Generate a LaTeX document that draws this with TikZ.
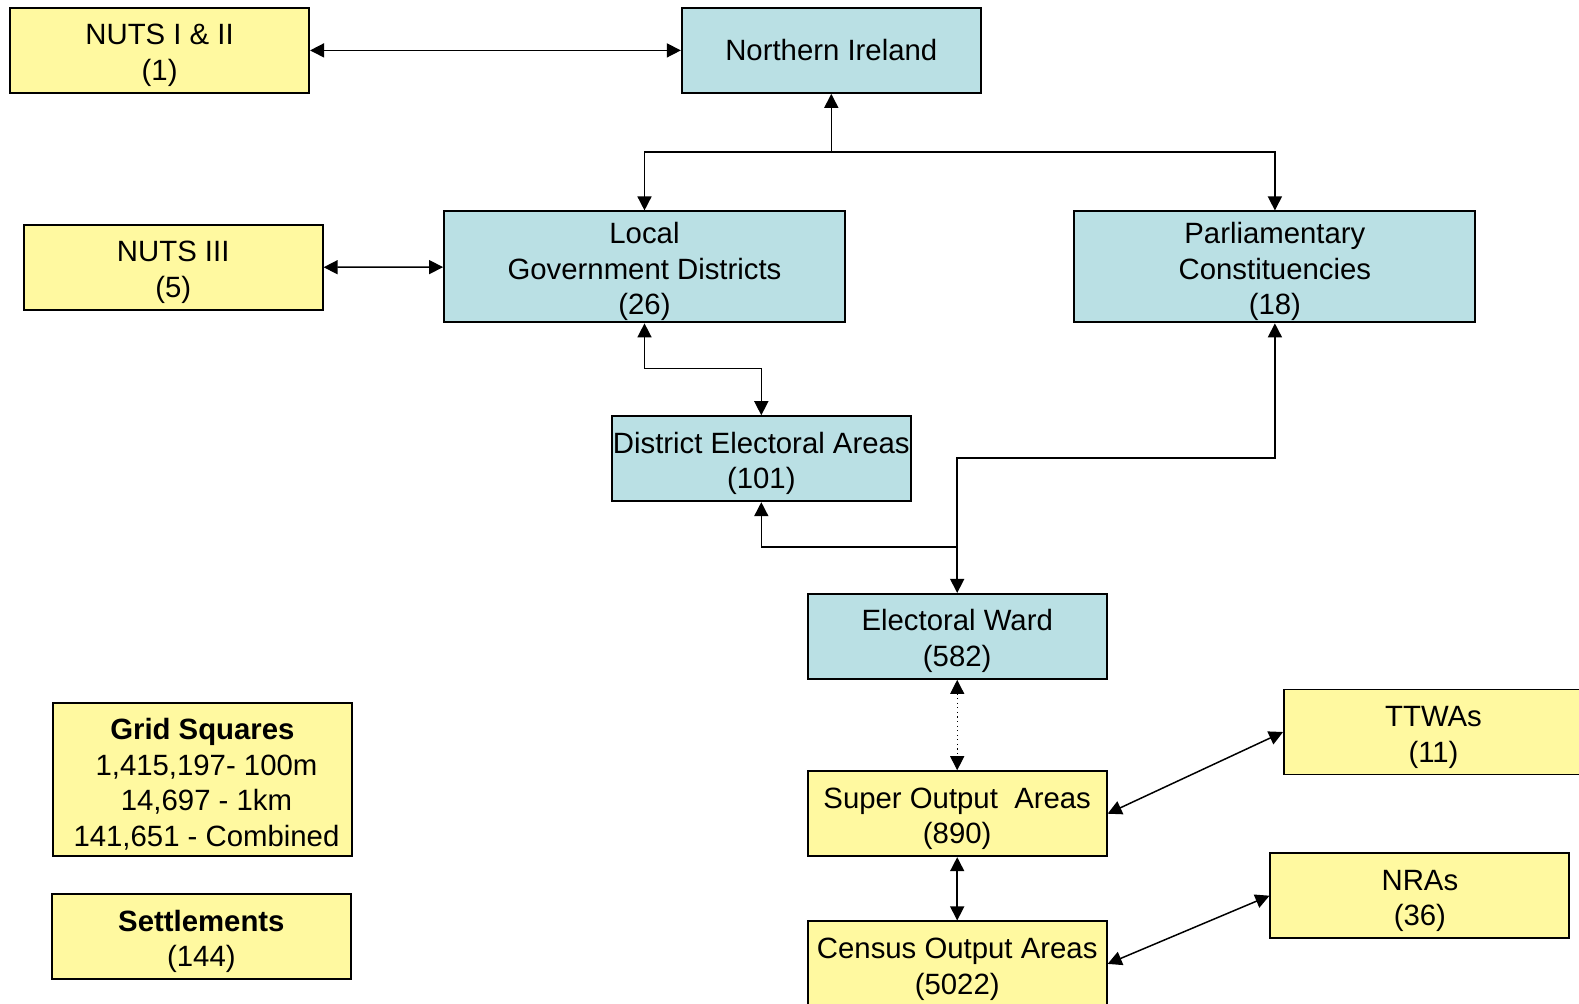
\documentclass[tikz,border=0pt]{standalone}
\usepackage{fontspec}
\setmainfont{Liberation Sans}
\usetikzlibrary{arrows.meta}
\definecolor{areayellow}{RGB}{255,249,160}
\definecolor{areablue}{RGB}{186,224,228}
\newcommand{\topgap}{\rule{0pt}{17.5pt}}
\begin{document}
\begin{tikzpicture}[x=0.02cm,y=-0.02cm,
  >={Triangle[length=8pt,width=8pt]},
  box/.style={draw,line width=1.1pt,align=center,inner sep=0pt,
    minimum width=5.98cm,minimum height=1.7cm,
    font=\fontsize{16.7}{20.3}\selectfont},
  ybox/.style={box,fill=areayellow},
  bbox/.style={box,fill=areablue},
  wide/.style={minimum width=8.02cm,minimum height=2.22cm},
  link/.style={line width=0.85pt}]
\useasboundingbox (0,0) rectangle (1579,1004);
% boxes
\node[ybox] (nuts12) at (159.6,50.4) {\topgap NUTS I \& II\\(1)};
\node[bbox] (ni) at (831.3,50.4) {Northern Ireland};
\node[ybox] (nuts3) at (173.2,267.4) {\topgap NUTS III\\(5)};
\node[bbox,wide] (lgd) at (644.5,266.9) {\topgap Local\\Government Districts\\(26)};
\node[bbox,wide] (pc) at (1274.9,266.9) {\topgap Parliamentary\\Constituencies\\(18)};
\node[bbox] (dea) at (761.3,458.7) {\topgap District Electoral Areas\\(101)};
\node[bbox] (ew) at (957.2,636.4) {\topgap Electoral Ward\\(582)};
\node[ybox] (soa) at (957.2,813.7) {\topgap Super Output\ \ Areas\\(890)};
\node[ybox] (coa) at (957.2,963.9) {\topgap Census Output Areas\\(5022)};
\node[ybox] (ttwa) at (1433.5,732) {\topgap TTWAs\\(11)};
\node[ybox] (nra) at (1419.9,895.7) {\topgap NRAs\\(36)};
\node[ybox,minimum height=3.06cm] (grid) at (202.4,779.4)
  {\topgap\textbf{Grid Squares}\\\ 1,415,197- 100m\\\ 14,697 - 1km\\\ 141,651 - Combined};
\node[ybox] (sett) at (201.4,936.5) {\topgap\textbf{Settlements}\\(144)};
% connectors
\coordinate (split) at (ni.south |- 0,152);
\coordinate (leabend) at (lgd.south |- 0,368.6);
\coordinate (wardbend) at (ew.north |- 0,458.2);
\coordinate (wardjoin) at (ew.north |- 0,546.8);
\draw[link,<->] (nuts12) -- (ni);
\draw[link,<->] (nuts3) -- (lgd);
\draw[link,->] (split) -- (ni);
\draw[link,->] (split) -| (lgd);
\draw[link,->] (split) -| (pc);
\draw[link,<->] (lgd.south) -- (leabend) -| (dea.north);
\draw[link,<->] (pc.south) |- (wardbend) -- (ew.north);
\draw[link,->] (wardjoin) -| (dea.south);
\draw[line width=0.6pt,dotted,<->] (ew) -- (soa);
\draw[link,<->] (soa) -- (coa);
\draw[link,<->] (soa.east) -- (ttwa.west);
\draw[link,<->] (coa.east) -- (nra.west);
\end{tikzpicture}
\end{document}
